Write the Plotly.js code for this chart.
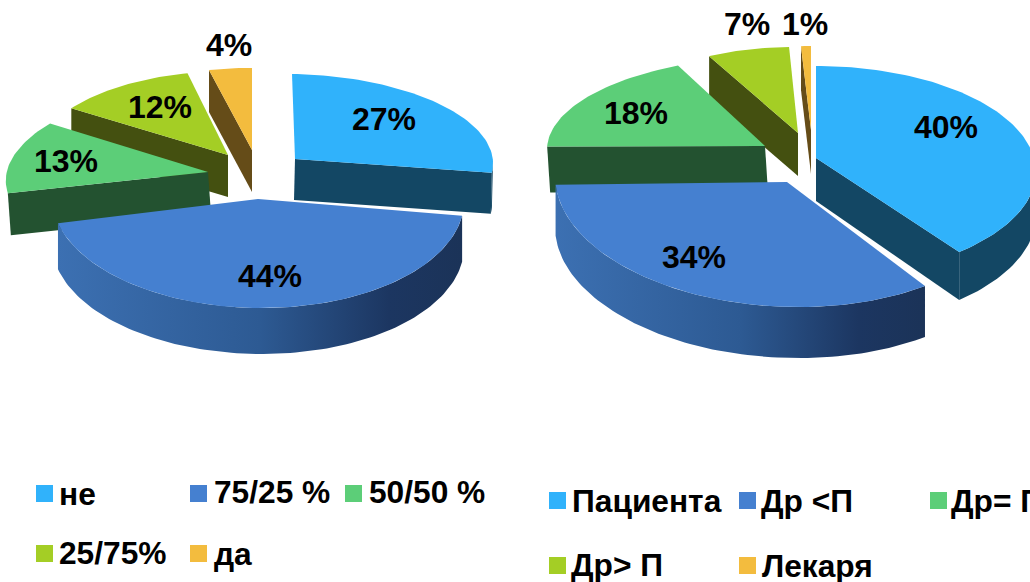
<!DOCTYPE html>
<html>
<head>
<meta charset="utf-8">
<script src="https://cdn.plot.ly/plotly-3.0.1.min.js"></script>
<style>html,body{margin:0;padding:0;background:#fff;overflow:hidden}</style>
</head>
<body>
<div id="chart" style="width:1030px;height:582px"></div>
<script>
// ---- data ----
const categoriesA = ['не', '75/25 %', '50/50 %', '25/75%', 'да'];
const valuesA = [27, 44, 13, 12, 4];
const categoriesB = ['Пациента', 'Др <П', 'Др= П', 'Др> П', 'Лекаря'];
const valuesB = [40, 34, 18, 7, 1];

// ---- styles ----
const topColors = ['#30B2FB', '#4580D0', '#5CCE78', '#A4CE25', '#F3BC3E'];
const wallColors = ['#134764', '#1F3D6B', '#235230', '#445010', '#654C18'];
const blueWallScale = [[0, '#3C70B2'], [0.5, '#2D5A93'], [0.82, '#1C3661'], [1, '#1B3358']];

// ---- pseudo-3D projection of each exploded slice: origin, plane vectors, perspective, depth ----
const projA = [
  {cx: 295, cy: 159, ux: 198, uy: 3, vx: -3, vy: -85, g: 0, dx: -1, dy: 41},
  {cx: 258, cy: 199, ux: 206, uy: 3, vx: 2, vy: -109, g: 0, dx: 0, dy: 46},
  {cx: 208, cy: 172, ux: 201, uy: 1, vx: 22, vy: -89, g: 0, dx: 3, dy: 42},
  {cx: 228, cy: 155, ux: 190, uy: 2, vx: 7, vy: -84, g: 0, dx: 0, dy: 42},
  {cx: 252, cy: 150, ux: 173, uy: 2, vx: 0, vy: -82, g: 0, dx: 0, dy: 42}
];
const projB = [
  {cx: 816, cy: 158, ux: 218, uy: 0, vx: 0, vy: -104, g: 0.13, dx: 0, dy: 43},
  {cx: 787, cy: 182, ux: 232, uy: 5, vx: -2, vy: -125, g: 0, dx: 0, dy: 51},
  {cx: 765, cy: 146, ux: 217, uy: 5, vx: 20, vy: -89, g: 0, dx: 3, dy: 46},
  {cx: 798, cy: 133, ux: 190, uy: 3, vx: 3, vy: -86, g: 0, dx: 0, dy: 43},
  {cx: 811, cy: 130, ux: 159, uy: 0, vx: 0, vy: -84, g: 0, dx: 0, dy: 44}
];
const drawOrderA = [4, 3, 2, 0, 1];
const drawOrderB = [4, 3, 2, 1, 0];

const labelPosA = [[384, 122], [270, 279], [66, 164], [160, 110], [229, 48]];
const labelPosB = [[946, 130], [694, 260], [636, 116], [747, 27], [805, 27]];

const swatchPosA = [[44.5, 493.5], [198.5, 493.5], [353.5, 493.5], [44.5, 553.5], [198.5, 553.5]];
const textPosA = [[59, 497], [214, 495], [369, 495], [59, 556], [214, 557]];
const swatchPosB = [[557.5, 500.5], [747.5, 500.5], [938.5, 500.5], [557.5, 565.5], [747.5, 565.5]];
const textPosB = [[572, 504], [761, 504], [951, 504], [571, 568], [762, 569]];

const FONT = 'Liberation Sans, Arial, sans-serif';
const traces = [];

function point(p, deg) {
  const t = deg * Math.PI / 180, s = Math.sin(t), c = Math.cos(t), w = 1 + p.g * c;
  return {x: p.cx + (p.ux * s + p.vx * c) / w, y: p.cy + (p.uy * s + p.vy * c) / w, w: w};
}
function arc(p, a, b) {
  const n = Math.max(2, Math.ceil(Math.abs(b - a) / 1.5));
  const out = [];
  for (let i = 0; i <= n; i++) out.push(point(p, a + (b - a) * i / n));
  return out;
}
function low(p, q) { return {x: q.x + p.dx / q.w, y: q.y + p.dy / q.w, w: q.w}; }
function poly(pts, color, gradient) {
  const tr = {
    type: 'scatter', mode: 'lines', hoverinfo: 'skip', showlegend: false,
    x: pts.map(q => q.x).concat(pts[0].x), y: pts.map(q => q.y).concat(pts[0].y),
    fill: 'toself', line: {width: 0, color: color}
  };
  if (gradient) tr.fillgradient = {type: 'horizontal', colorscale: gradient};
  else tr.fillcolor = color;
  traces.push(tr);
}

function drawPie(values, proj, order) {
  const total = values.reduce((a, b) => a + b, 0);
  let run = 0;
  const angles = values.map(v => { const a = run / total * 360; run += v; return [a, run / total * 360]; });
  order.forEach(i => {
    const p = proj[i], a1 = angles[i][0], a2 = angles[i][1];
    const apex = {x: p.cx, y: p.cy, w: 1};
    // radial cut faces facing the viewer
    if (a2 < 180) {
      const e = point(p, a2);
      poly([apex, e, low(p, e), low(p, apex)], wallColors[i]);
    }
    if (a1 > 180) {
      const e = point(p, a1);
      poly([apex, e, low(p, e), low(p, apex)], wallColors[i]);
    }
    // outer rim on the front half, only for slices whose rim faces the viewer
    const r1 = Math.max(a1, 90), r2 = Math.min(a2, 270);
    if (r2 > r1 && a1 < 180) {
      const upper = arc(p, r1, r2);
      const lower = upper.slice().reverse().map(q => low(p, q));
      poly(upper.concat(lower), wallColors[i], i === 1 ? blueWallScale : null);
    }
    // top face
    poly([apex].concat(arc(p, a1, a2)), topColors[i]);
  });
}

drawPie(valuesA, projA, drawOrderA);
drawPie(valuesB, projB, drawOrderB);

function textTrace(pos, labels, size, where) {
  traces.push({
    type: 'scatter', mode: 'text', hoverinfo: 'skip', showlegend: false,
    x: pos.map(q => q[0]), y: pos.map(q => q[1]), text: labels,
    textposition: where,
    textfont: {family: FONT, size: size, color: '#000000', weight: 700}
  });
}
function swatches(pos) {
  traces.push({
    type: 'scatter', mode: 'markers', hoverinfo: 'skip', showlegend: false,
    x: pos.map(q => q[0]), y: pos.map(q => q[1]),
    marker: {symbol: 'square', size: 17, color: topColors, line: {width: 0}}
  });
}

textTrace(labelPosA, valuesA.map(v => v + '%'), 32, 'middle center');
textTrace(labelPosB, valuesB.map(v => v + '%'), 32, 'middle center');
swatches(swatchPosA);
swatches(swatchPosB);
textTrace(textPosA, categoriesA, 31.7, 'middle right');
textTrace(textPosB, categoriesB, 31.7, 'middle right');

const layout = {
  width: 1030, height: 582,
  margin: {l: 0, r: 0, t: 0, b: 0},
  paper_bgcolor: '#ffffff', plot_bgcolor: '#ffffff',
  showlegend: false,
  xaxis: {range: [0, 1030], visible: false, fixedrange: true},
  yaxis: {range: [582, 0], visible: false, fixedrange: true}
};
Plotly.newPlot('chart', traces, layout, {displayModeBar: false, staticPlot: true});
</script>
</body>
</html>
